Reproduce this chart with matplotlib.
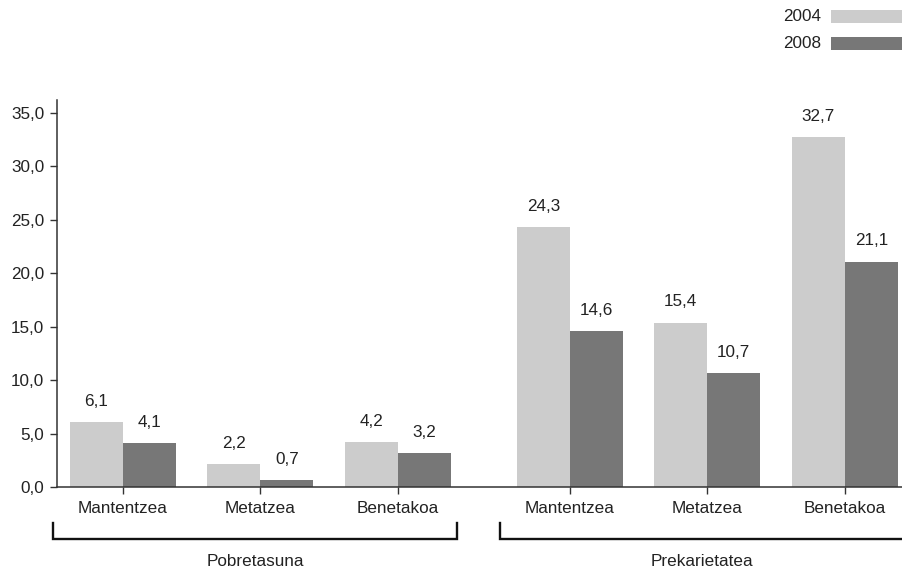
import matplotlib
matplotlib.use('Agg')
import matplotlib.pyplot as plt
import matplotlib.transforms as mtransforms
from matplotlib.patches import Rectangle

# chart data
groups = ['Pobretasuna', 'Prekarietatea']
categories = ['Mantentzea', 'Metatzea', 'Benetakoa']
years = ['2004', '2008']
values_2004 = [6.1, 2.2, 4.2, 24.3, 15.4, 32.7]
values_2008 = [4.1, 0.7, 3.2, 14.6, 10.7, 21.1]
y_ticks = [0, 5, 10, 15, 20, 25, 30, 35]

# style
light = '#cccccc'
dark = '#777777'
text_col = '#222222'
line_col = '#333333'
plt.rcParams['font.family'] = ['Liberation Sans', 'DejaVu Sans']
fs = 12.3

fig = plt.figure(figsize=(9.03, 5.71), dpi=100)
ax = fig.add_axes([57 / 903, 1 - 487.3 / 571, 1 - 57 / 903, (487.3 - 100) / 571])

gap = 0.25  # extra spacing between the two groups
x = [i + (gap if i >= 3 else 0) for i in range(6)]
w = 0.3855

b1 = ax.bar([p - w / 2 for p in x], values_2004, width=w, color=light, linewidth=0)
b2 = ax.bar([p + w / 2 for p in x], values_2008, width=w, color=dark, linewidth=0)

for bars, vals in [(b1, values_2004), (b2, values_2008)]:
    for rect, v in zip(bars, vals):
        ax.annotate(f'{v:.1f}'.replace('.', ','),
                    (rect.get_x() + rect.get_width() / 2, rect.get_height()),
                    xytext=(0, 9.5), textcoords='offset points',
                    ha='center', va='bottom', fontsize=fs, color=text_col)

ax.set_xlim(-0.48, 5.673)
ax.set_ylim(0, 36.2)
ax.set_xticks(x)
ax.set_xticklabels(categories * 2)
ax.set_yticks(y_ticks)
ax.set_yticklabels([f'{t:.1f}'.replace('.', ',') for t in y_ticks])

for s in ['top', 'right']:
    ax.spines[s].set_visible(False)
for s in ['left', 'bottom']:
    ax.spines[s].set_color(line_col)
    ax.spines[s].set_linewidth(1.1)
ax.tick_params(axis='x', direction='out', length=5, width=1, color=line_col,
               pad=5, labelsize=fs, labelcolor=text_col)
ax.tick_params(axis='y', direction='out', length=5, width=1, color=line_col,
               pad=4, labelsize=fs, labelcolor=text_col)

# group brackets under the category labels
trans = mtransforms.blended_transform_factory(ax.transData, fig.transFigure)
y_line = 1 - 539 / 571
y_top = 1 - 523 / 571
for gi, name in enumerate(groups):
    xs = x[gi * 3:(gi + 1) * 3]
    left = xs[0] - 0.507
    right = xs[-1] + 0.427
    ax.plot([left, left, right, right], [y_top, y_line, y_line, y_top],
            transform=trans, clip_on=False, color='#111111', linewidth=1.7,
            solid_joinstyle='miter')
    ax.text((left + right) / 2, 1 - 562 / 571, name, transform=trans,
            ha='center', va='center', fontsize=fs, color=text_col)

# legend at top right
legend_colors = [light, dark]
for i, (yr, c) in enumerate(zip(years, legend_colors)):
    y0 = 1 - (23 + i * 26.5) / 571
    fig.patches.append(Rectangle((831 / 903, y0), 72 / 903, 13 / 571,
                                 transform=fig.transFigure, color=c, linewidth=0))
    fig.text(821 / 903, y0 + 6.5 / 571, yr, ha='right', va='center',
             fontsize=fs, color=text_col)

fig.savefig('out.png', dpi=100)
